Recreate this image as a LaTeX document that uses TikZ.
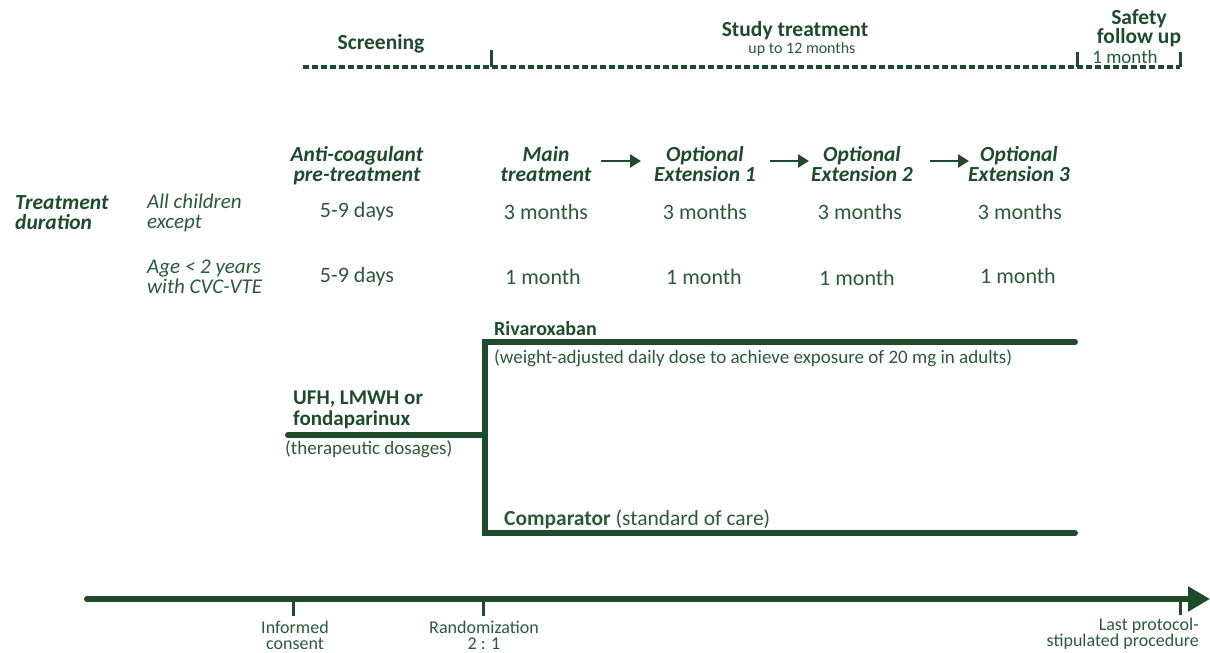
\documentclass[tikz,border=0pt]{standalone}
\usepackage{fontspec}
\setmainfont{Carlito}
\usetikzlibrary{arrows.meta}
\definecolor{dg}{HTML}{1D4B2C}
\definecolor{tg}{HTML}{2A5A38}
\begin{document}
\begin{tikzpicture}[x=1pt,y=-1pt,
  txt/.style={inner sep=0pt, text=tg, font=\fontsize{22}{20}\selectfont},
  itx/.style={inner sep=0pt, text=tg, anchor=west, align=left, font=\fontsize{21}{20}\selectfont\itshape},
  hd/.style={inner sep=0pt, text=dg, align=center, font=\fontsize{21.5}{20}\selectfont\bfseries\itshape},
  bhd/.style={inner sep=0pt, text=dg, align=center, font=\fontsize{21.5}{19}\selectfont\bfseries},
  sml/.style={inner sep=0pt, text=tg, align=center, font=\fontsize{16}{14}\selectfont},
  btm/.style={inner sep=0pt, text=tg, align=center, font=\fontsize{18}{16}\selectfont},
  lbl/.style={inner sep=0pt, text=tg, align=center, font=\fontsize{19}{18}\selectfont},
  arm/.style={draw=dg, line width=6pt, line cap=round},
  dsh/.style={draw=dg, line width=4pt, dash pattern=on 6pt off 3pt},
  tick/.style={draw=dg, line width=3pt},
  harrow/.style={draw=dg, line width=2.5pt, -{Triangle[length=11pt,width=13pt]}},
]
\useasboundingbox (0,0) rectangle (1210,653);
% top timeline
\coordinate (ts) at (303,67);
\coordinate (te) at (1180,67);
\coordinate (tr) at (491,67);
\coordinate (trt) at (491,50);
\coordinate (sfl) at (1077,67);
\coordinate (sflt) at (1077,52);
\coordinate (sfrt) at (1180,52);
\draw[dsh] (ts) -- (te);
\draw[tick] (trt) -- (tr);
\draw[tick] (sflt) -- (sfl);
\draw[tick] (sfrt) -- (te);
\node[bhd] (scr) at (381,44) {Screening};
\node[bhd] (st) at (795,31) {Study treatment};
\node[sml] (st2) at (802,49) {up to 12 months};
\node[bhd] (sf) at (1139,28) {Safety\\follow up};
\node[sml, font=\fontsize{19}{19}\selectfont] (sf2) at (1125,57) {1 month};

% headers
\node[hd] (pre) at (357,166) {Anti-coagulant\\pre-treatment};
\node[hd] (main) at (546,164) {Main\\treatment};
\node[hd] (ext1) at (705,164) {Optional\\Extension 1};
\node[hd] (ext2) at (862,164) {Optional\\Extension 2};
\node[hd] (ext3) at (1019,164) {Optional\\Extension 3};
\coordinate (a1s) at (601,161); \coordinate (a1e) at (641,161);
\coordinate (a2s) at (770,161); \coordinate (a2e) at (809,161);
\coordinate (a3s) at (930,161); \coordinate (a3e) at (969,161);
\draw[harrow] (a1s) -- (a1e);
\draw[harrow] (a2s) -- (a2e);
\draw[harrow] (a3s) -- (a3e);

% rows
\node[hd, anchor=west, align=left] (td) at (15,213) {Treatment\\duration};
\node[itx] (r1) at (147,213) {All children\\except};
\node[itx] (r2) at (147,277) {Age < 2 years\\with CVC-VTE};
\node[txt] (d1) at (357,212) {5-9 days};
\node[txt] (d2) at (357,277) {5-9 days};
\node[txt] (m1) at (546,212) {3 months};
\node[txt] (m2) at (705,212) {3 months};
\node[txt] (m3) at (860,212) {3 months};
\node[txt] (m4) at (1020,212) {3 months};
\node[txt] (n1) at (543,277) {1 month};
\node[txt] (n2) at (704,277) {1 month};
\node[txt] (n3) at (857,278) {1 month};
\node[txt] (n4) at (1018,276) {1 month};

% arms
\coordinate (rv) at (485,435);
\coordinate (ufs) at (288,435);
\coordinate (rt) at (485,342);
\coordinate (rte) at (1075,342);
\coordinate (rb) at (485,533);
\coordinate (rbe) at (1075,533);
\draw[arm] (ufs) -- (rv);
\draw[arm, line cap=butt] (rte) -- (rt) -- (rb) -- (rbe);
\draw[arm] (rte) -- ++(-1,0);
\draw[arm] (rbe) -- ++(-1,0);
\node[bhd, anchor=west] (riv) at (494,329) {\fontsize{20}{20}\selectfont Rivaroxaban};
\node[lbl, anchor=west] (rivd) at (494,358) {(weight-adjusted daily dose to achieve exposure of 20 mg in adults)};
\node[bhd, anchor=west, align=left, font=\fontsize{21}{20.5}\selectfont\bfseries] (ufh) at (293,410) {UFH, LMWH or\\fondaparinux};
\node[lbl, anchor=west] (ufhd) at (285,449) {(therapeutic dosages)};
\node[lbl, anchor=west, font=\fontsize{21.5}{20}\selectfont] (cmp) at (504,519) {\textbf{Comparator} (standard of care)};

% bottom axis
\coordinate (as) at (87,599);
\coordinate (ae) at (1210,599);
\draw[draw=dg, line width=6pt, line cap=round, -{Triangle[length=22pt,width=24pt]}] (as) -- (ae);
\coordinate (ic) at (293,599); \coordinate (icb) at (293,616);
\coordinate (rd) at (483,599); \coordinate (rdb) at (483,616);
\coordinate (lp) at (1180,599); \coordinate (lpb) at (1180,615);
\draw[tick] (ic) -- (icb);
\draw[tick] (rd) -- (rdb);
\draw[tick] (lp) -- (lpb);
\node[btm] (icl) at (295,635) {Informed\\consent};
\node[btm] (rdl) at (484,635) {Randomization\\2 : 1};
\node[btm, anchor=east, align=right] (lpl) at (1199,634) {Last protocol-\\stipulated procedure};
\end{tikzpicture}
\end{document}
